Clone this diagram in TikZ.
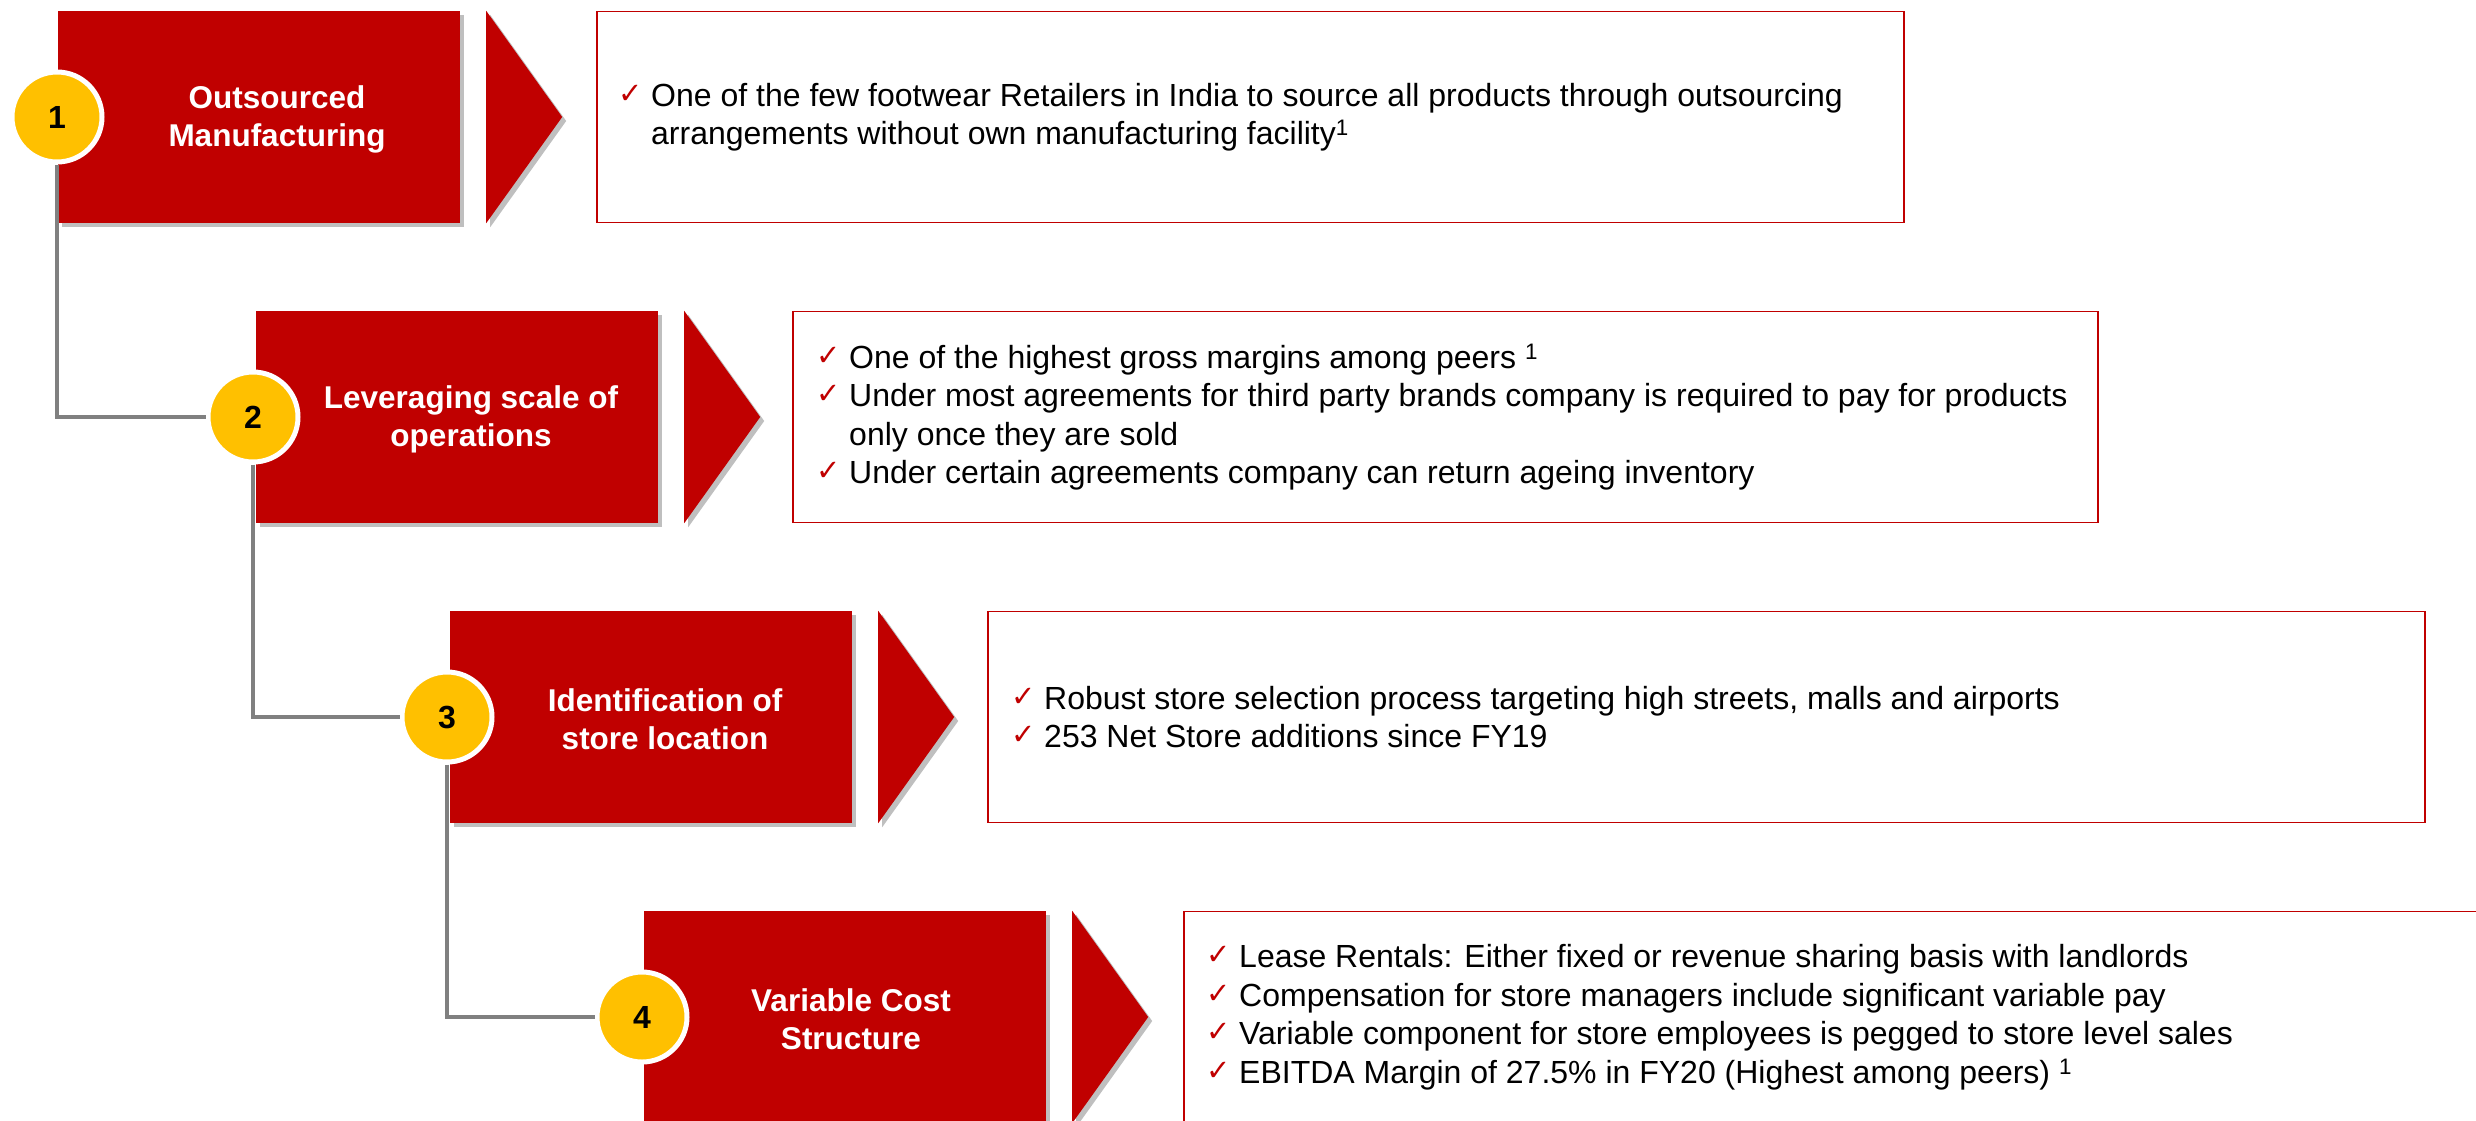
\documentclass[tikz,border=0pt]{standalone}
\usepackage{fontspec}
\setmainfont{Liberation Sans}
\newfontfamily\symf{DejaVu Sans}
\usetikzlibrary{shadows,calc}
\definecolor{dred}{HTML}{C00000}
\definecolor{gold}{HTML}{FFC000}
\definecolor{lgray}{HTML}{808080}
\newcommand{\ck}{\makebox[33pt][l]{\raisebox{3pt}{\color{dred}\symf\fontsize{29}{29}\selectfont ✓}}}
\newcommand{\ind}{\hspace*{33pt}}
\begin{document}
\begin{tikzpicture}[x=1pt,y=-1pt,
  redbox/.style={fill=dred, minimum width=402pt, minimum height=212pt, inner sep=0pt,
    drop shadow={shadow xshift=4pt,shadow yshift=-4pt,fill=black,opacity=0.25}},
  chev/.style={fill=dred, drop shadow={shadow xshift=4pt,shadow yshift=-4pt,fill=black,opacity=0.25}},
  title/.style={text=white, font=\bfseries\fontsize{31.5}{38}\selectfont, align=center, inner sep=0pt},
  numc/.style={circle, fill=gold, draw=white, line width=5pt, minimum size=90pt, inner sep=0pt,
    font=\bfseries\fontsize{32}{32}\selectfont},
  tbox/.style={draw=dred, line width=1.5pt, fill=white, minimum height=211pt, inner sep=0pt, anchor=west},
  body/.style={font=\fontsize{32}{38.5}\selectfont, align=left, inner sep=0pt, anchor=west},
  conn/.style={draw=lgray, line width=4pt}
]
\useasboundingbox (0,0) rectangle (2476,1120);
\clip (0,0) rectangle (2476,1120);
\fill[white] (0,0) rectangle (2476,1120);

% red boxes
\node[redbox] (b1) at (259,117) {};
\node[redbox] (b2) at (457,417) {};
\node[redbox] (b3) at (651,717) {};
\node[redbox] (b4) at (845,1017) {};

% chevrons
\foreach \b in {b1,b2,b3,b4}{
  \path[chev] ($(\b.north east)+(26,0)$) -- ($(\b.east)+(102,0)$) -- ($(\b.south east)+(26,0)$) -- cycle;
}

% titles
\node[title] (t1) at ($(b1.center)+(18,2)$) {Outsourced\\Manufacturing};
\node[title] (t2) at ($(b2.center)+(14,2)$) {Leveraging scale of\\operations};
\node[title] (t3) at ($(b3.center)+(14,2)$) {Identification of\\store location};
\node[title] (t4) at ($(b4.center)+(6,2)$) {Variable Cost\\Structure};

% circles
\node[numc] (c1) at (57,117) {1};
\node[numc] (c2) at (253,417) {2};
\node[numc] (c3) at (447,717) {3};
\node[numc] (c4) at (642,1017) {4};

% connectors
\draw[conn] (c1.south) |- (c2.west);
\draw[conn] (c2.south) |- (c3.west);
\draw[conn] (c3.south) |- (c4.west);

% text boxes
\node[tbox, minimum width=1307pt] (x1) at (596,117) {};
\node[tbox, minimum width=1305pt] (x2) at (792,417) {};
\node[tbox, minimum width=1437pt] (x3) at (987,717) {};
\node[tbox, minimum width=1500pt] (x4) at (1183,1017) {};

\node[body] (y1) at ($(x1.west)+(22,0)$) {\ck One of the few footwear Retailers in India to source all products through outsourcing\\
\ind arrangements without own manufacturing facility\textsuperscript{1}};
\node[body] (y2) at ($(x2.west)+(24,0)$) {\ck One of the highest gross margins among peers \textsuperscript{1}\\
\ck Under most agreements for third party brands company is required to pay for products\\
\ind only once they are sold\\
\ck Under certain agreements company can return ageing inventory};
\node[body] (y3) at ($(x3.west)+(24,0)$) {\ck Robust store selection process targeting high streets, malls and airports\\
\ck 253 Net Store additions since FY19};
\node[body] (y4) at ($(x4.west)+(23,0)$) {\ck Lease Rentals: Either fixed or revenue sharing basis with landlords\\
\ck Compensation for store managers include significant variable pay\\
\ck Variable component for store employees is pegged to store level sales\\
\ck EBITDA Margin of 27.5\% in FY20 (Highest among peers) \textsuperscript{1}};
\end{tikzpicture}
\end{document}
